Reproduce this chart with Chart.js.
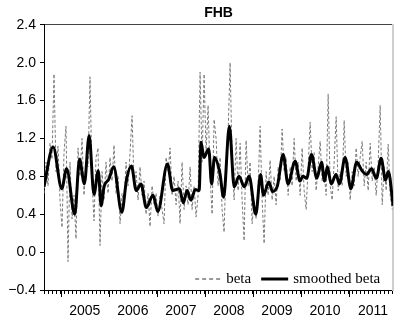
<!DOCTYPE html>
<html>
<head>
<meta charset="utf-8">
<script src="https://cdn.jsdelivr.net/npm/chart.js@4"></script>
<style>
body{margin:0;background:#fff;}
</style>
</head>
<body>
<canvas id="betaChart" width="402" height="324"></canvas>
<script>
// beta sampled every half month from late Aug 2004
let betaStart = 2004.65;
let betaStep = 1/24;
let beta = [
0.62,0.95,0.70,1.15,0.98,1.88,0.85,1.12,0.55,0.26,1.05,1.33,
-0.10,0.95,0.35,0.60,0.14,1.10,0.80,1.20,0.60,0.95,0.90,1.85,
0.75,0.33,1.00,1.10,0.07,0.85,0.55,0.95,0.62,1.00,0.75,1.13,
0.62,0.80,0.30,0.62,0.50,0.95,0.70,1.05,1.44,0.72,0.85,0.55,
0.90,0.60,0.75,0.40,0.62,0.27,0.70,0.50,0.62,0.38,0.60,0.45,
0.30,1.00,0.85,1.10,0.60,0.80,0.50,0.75,0.30,0.95,0.45,0.70,
0.50,0.90,0.45,0.70,0.37,0.60,1.90,0.95,1.88,1.05,1.55,0.80,
0.40,1.40,1.20,0.70,1.00,0.45,0.21,0.95,1.25,2.00,0.95,0.55,
1.20,0.65,1.15,0.55,0.12,1.18,0.70,0.95,0.30,0.55,0.35,0.70,
1.33,0.55,0.09,0.85,0.60,0.97,0.55,0.80,0.50,0.90,0.75,1.30,
0.85,1.00,0.60,0.90,0.70,1.20,0.75,0.95,0.60,1.10,0.65,0.45,
0.90,1.37,0.85,1.05,0.65,0.90,1.17,0.75,0.85,0.60,1.67,0.70,
0.55,0.95,1.43,0.65,0.85,0.70,1.39,0.80,0.95,0.55,0.85,0.70,
1.10,0.80,1.00,1.17,0.70,0.95,0.65,1.15,0.75,0.90,0.60,0.95,
1.55,0.50,0.90,0.65,1.14,0.60,0.45
];
let smoothDates = [
2004.65,2004.84,2005.02,2005.12,2005.29,2005.39,2005.49,2005.59,2005.69,2005.78,
2005.84,2005.90,2006.00,2006.10,2006.27,2006.37,2006.47,2006.57,2006.67,2006.78,
2006.92,2007.02,2007.22,2007.33,2007.47,2007.55,2007.63,2007.71,2007.80,2007.88,
2007.92,2007.98,2008.08,2008.14,2008.20,2008.31,2008.39,2008.51,2008.61,2008.71,
2008.82,2008.92,2009.06,2009.16,2009.22,2009.33,2009.41,2009.51,2009.63,2009.73,
2009.88,2009.98,2010.04,2010.12,2010.22,2010.33,2010.43,2010.49,2010.55,2010.63,
2010.73,2010.80,2010.92,2011.04,2011.16,2011.27,2011.37,2011.47,2011.57,2011.67,
2011.76,2011.82,2011.92
];
let smoothed = [
0.69,1.11,0.67,0.88,0.40,0.98,0.72,1.23,0.61,0.86,
0.49,0.69,0.77,0.90,0.42,0.77,0.91,0.65,0.72,0.47,
0.60,0.43,0.93,0.65,0.67,0.52,0.65,0.55,0.66,0.65,
1.16,1.00,1.09,0.72,1.00,0.84,0.58,1.33,0.69,0.80,
0.69,0.80,0.40,0.82,0.60,0.74,0.64,0.70,1.03,0.72,
0.96,0.75,0.80,0.78,1.03,0.78,0.95,0.75,0.90,0.72,
0.82,0.72,1.00,0.67,0.95,0.86,0.82,0.88,0.78,0.99,
0.76,0.85,0.49
];
let yearLabels = [2005,2006,2007,2008,2009,2010,2011];
let xMin = 2004.65, xMax = 2011.92;
let yMin = -0.4, yMax = 2.4, yStep = 0.4;

let sans = "'Liberation Sans',Arial,sans-serif";
let serif = "'Liberation Serif','DejaVu Serif',serif";

let betaPoints = beta.map((v,i)=>({x: betaStart + i*betaStep, y: v}));
let smoothPoints = smoothed.map((v,i)=>({x: smoothDates[i], y: v}));

let extras = {
id:'extras',
afterDraw(chart){
let ctx = chart.ctx;
let a = chart.chartArea;
let x = chart.scales.x;
ctx.save();
// longer ticks at the start of each year
ctx.strokeStyle = '#000';
ctx.lineWidth = 1;
yearLabels.forEach(yr=>{
let px = Math.round(x.getPixelForValue(yr)) + 0.5;
ctx.beginPath();
ctx.moveTo(px, a.bottom);
ctx.lineTo(px, a.bottom + 7);
ctx.stroke();
});
// legend
let ly = a.bottom - 11;
ctx.strokeStyle = '#333';
ctx.setLineDash([4,3]);
ctx.beginPath();
ctx.moveTo(a.right - 198, ly);
ctx.lineTo(a.right - 172, ly);
ctx.stroke();
ctx.setLineDash([]);
ctx.strokeStyle = '#000';
ctx.lineWidth = 3;
ctx.beginPath();
ctx.moveTo(a.right - 132, ly);
ctx.lineTo(a.right - 105, ly);
ctx.stroke();
ctx.fillStyle = '#000';
ctx.font = "15px " + serif;
ctx.textBaseline = 'middle';
ctx.fillText('beta', a.right - 167, ly);
ctx.fillText('smoothed beta', a.right - 100, ly);
ctx.restore();
}
};

new Chart(document.getElementById('betaChart'),{
type:'line',
data:{
datasets:[
{label:'smoothed beta', data:smoothPoints, xAxisID:'x', yAxisID:'y',
borderColor:'#000', borderWidth:3, pointRadius:0, cubicInterpolationMode:'monotone', fill:false},
{label:'beta', data:betaPoints, xAxisID:'x', yAxisID:'y',
borderColor:'#7a7a7a', borderWidth:1, borderDash:[3,2], pointRadius:0, tension:0, fill:false}
]
},
options:{
responsive:false,
animation:false,
devicePixelRatio:1,
layout:{padding:{left:0,right:2,top:0,bottom:0}},
plugins:{
legend:{display:false},
tooltip:{enabled:false},
title:{display:true, text:'FHB', fullSize:false, color:'#000',
font:{family:sans, size:14, weight:'bold'}, padding:{top:5,bottom:3}}
},
scales:{
x:{type:'linear', position:'bottom', min:xMin, max:xMax,
afterBuildTicks:s=>{
let t=[];
for(let yr=2004; yr<=2011; yr++){
for(let m=0; m<12; m++){
let v = yr + m/12;
if(v >= s.min - 1e-6 && v <= s.max + 1e-6) t.push({value:v});
}
}
s.ticks = t;
},
afterFit:s=>{s.height = 34;},
ticks:{autoSkip:false, maxRotation:0, color:'#000', padding:9,
font:{family:sans, size:14},
callback:v=>{
let yr = Math.floor(v + 1e-6);
let m = Math.round((v - yr)*12);
return (m === 6 && yearLabels.includes(yr)) ? String(yr) : '';
}},
grid:{drawOnChartArea:false, tickLength:4, color:'#000'},
border:{color:'#000', width:1}
},
xT:{type:'linear', position:'top', min:xMin, max:xMax,
afterFit:s=>{s.height = 0;},
ticks:{display:false},
grid:{drawOnChartArea:false, drawTicks:false},
border:{color:'#444', width:1}
},
y:{type:'linear', position:'left', min:yMin, max:yMax,
afterFit:s=>{s.width = 44;},
ticks:{stepSize:yStep, color:'#000', padding:4,
font:{family:sans, size:14},
callback:v=>{
let s = Math.abs(v).toFixed(1);
return v < -1e-9 ? '\u2212' + s : s;
}},
grid:{drawOnChartArea:false, tickLength:4, color:'#000'},
border:{color:'#000', width:1}
},
yR:{type:'linear', position:'right', min:yMin, max:yMax,
afterFit:s=>{s.width = 0;},
ticks:{display:false},
grid:{drawOnChartArea:false, drawTicks:false},
border:{color:'#cfcfcf', width:2}
}
}
},
plugins:[extras]
});
</script>
</body>
</html>
